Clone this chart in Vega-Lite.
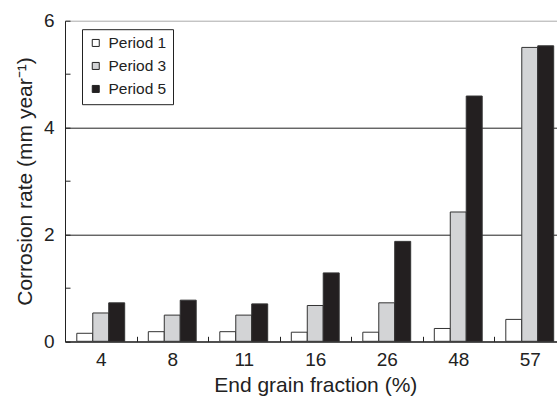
{
  "$schema": "https://vega.github.io/schema/vega-lite/v6.json",
  "autosize": {"type": "none"},
  "width": 492,
  "height": 320.6,
  "padding": {"left": 65, "top": 20.7, "right": 0, "bottom": 57.7},
  "background": "white",
  "config": {
    "view": {"stroke": null},
    "font": "Liberation Sans",
    "axis": {
      "labelFont": "Liberation Sans",
      "titleFont": "Liberation Sans",
      "labelColor": "#222",
      "titleColor": "#222",
      "domainColor": "#222",
      "tickColor": "#222",
      "titleFontWeight": "normal"
    }
  },
  "data": {
    "values": [
      {"fraction": "4", "period": "Period 1", "rate": 0.15},
      {"fraction": "4", "period": "Period 3", "rate": 0.53},
      {"fraction": "4", "period": "Period 5", "rate": 0.72},
      {"fraction": "8", "period": "Period 1", "rate": 0.18},
      {"fraction": "8", "period": "Period 3", "rate": 0.49},
      {"fraction": "8", "period": "Period 5", "rate": 0.77},
      {"fraction": "11", "period": "Period 1", "rate": 0.18},
      {"fraction": "11", "period": "Period 3", "rate": 0.49},
      {"fraction": "11", "period": "Period 5", "rate": 0.70},
      {"fraction": "16", "period": "Period 1", "rate": 0.17},
      {"fraction": "16", "period": "Period 3", "rate": 0.67},
      {"fraction": "16", "period": "Period 5", "rate": 1.28},
      {"fraction": "26", "period": "Period 1", "rate": 0.17},
      {"fraction": "26", "period": "Period 3", "rate": 0.72},
      {"fraction": "26", "period": "Period 5", "rate": 1.87},
      {"fraction": "48", "period": "Period 1", "rate": 0.24},
      {"fraction": "48", "period": "Period 3", "rate": 2.42},
      {"fraction": "48", "period": "Period 5", "rate": 4.59},
      {"fraction": "57", "period": "Period 1", "rate": 0.41},
      {"fraction": "57", "period": "Period 3", "rate": 5.50},
      {"fraction": "57", "period": "Period 5", "rate": 5.53}
    ]
  },
  "mark": {"type": "bar", "stroke": "#333", "strokeWidth": 1},
  "encoding": {
    "x": {
      "field": "fraction",
      "type": "nominal",
      "sort": ["4", "8", "11", "16", "26", "48", "57"],
      "scale": {"paddingInner": 0, "paddingOuter": 0, "range": [0, 500.5]},
      "axis": {
        "title": "End grain fraction (%)",
        "labelAngle": 0,
        "tickBand": "extent",
        "tickSize": -5,
        "labelPadding": 14,
        "labelFontSize": 19,
        "titleFontSize": 21,
        "titlePadding": 5
      }
    },
    "xOffset": {
      "field": "period",
      "type": "nominal",
      "scale": {"paddingInner": 0, "paddingOuter": 0.74}
    },
    "y": {
      "field": "rate",
      "type": "quantitative",
      "scale": {"domain": [0, 6], "nice": false},
      "axis": {
        "title": "Corrosion rate (mm year⁻¹)",
        "values": [0, 1, 2, 3, 4, 5, 6],
        "tickSize": -5,
        "labelPadding": 16,
        "labelExpr": "datum.value % 2 === 0 ? datum.label : ''",
        "labelFontSize": 19,
        "titleFontSize": 21,
        "titlePadding": 8,
        "grid": true,
        "gridColor": {"condition": {"test": "datum.value === 6", "value": "#aaaaaa"}, "value": "#222222"},
        "gridOpacity": {"condition": {"test": "datum.value % 2 === 1", "value": 0}, "value": 1}
      }
    },
    "color": {
      "field": "period",
      "type": "nominal",
      "scale": {"domain": ["Period 1", "Period 3", "Period 5"], "range": ["#ffffff", "#d3d4d6", "#231f20"]},
      "legend": {
        "title": null,
        "orient": "none",
        "legendX": 17,
        "legendY": 8.5,
        "strokeColor": "#222",
        "fillColor": "white",
        "padding": 6,
        "symbolType": "square",
        "symbolSize": 49,
        "symbolStrokeColor": "#222",
        "symbolStrokeWidth": 1,
        "symbolOpacity": 1,
        "labelFont": "Liberation Sans",
        "labelFontSize": 15.5,
        "labelColor": "#222",
        "labelOffset": 5,
        "rowPadding": 6
      }
    }
  }
}
